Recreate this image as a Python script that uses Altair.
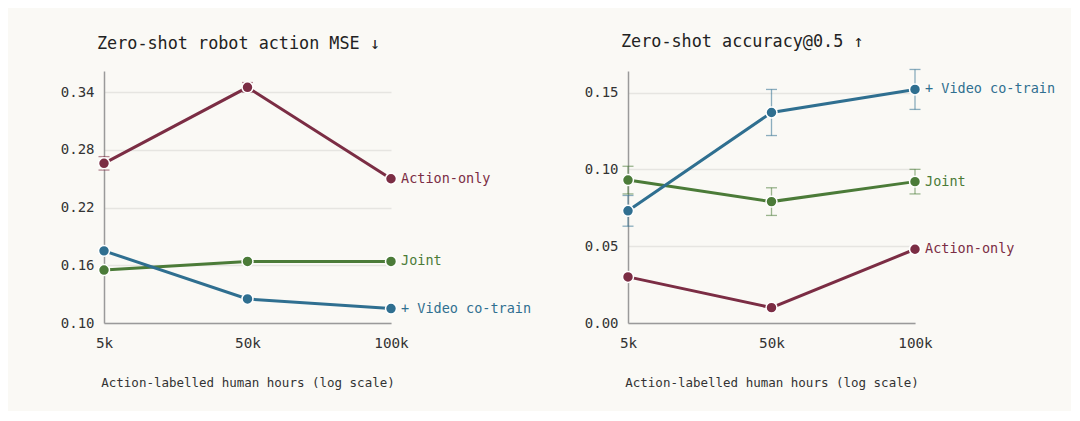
import altair as alt
import pandas as pd

hours = ["5k", "50k", "100k"]
series = ["Action-only", "Joint", "+ Video co-train"]
colors = ["#7b2d44", "#4b7b38", "#2f6f90"]

mse_action = [0.266, 0.345, 0.250]
mse_action_err = [0.007, 0.005, 0.0]
mse_joint = [0.155, 0.164, 0.164]
mse_joint_err = [0.0, 0.0, 0.0]
mse_video = [0.175, 0.125, 0.115]
mse_video_err = [0.0, 0.0, 0.0]

acc_action = [0.030, 0.010, 0.048]
acc_action_err = [0.0, 0.0, 0.0]
acc_joint = [0.093, 0.079, 0.092]
acc_joint_err = [0.009, 0.009, 0.008]
acc_video = [0.073, 0.137, 0.152]
acc_video_err = [0.010, 0.015, 0.013]

FONT = "DejaVu Sans Mono"


def frame(vals_list, errs_list):
    rows = []
    for s, vals, errs in zip(series, vals_list, errs_list):
        for i, (h, v, e) in enumerate(zip(hours, vals, errs)):
            rows.append({"pos": i, "hours": h, "series": s, "v": v, "lo": v - e, "hi": v + e, "e": e})
    return pd.DataFrame(rows)


label_expr = "[" + ",".join(f"'{h}'" for h in hours) + "][datum.value]"


def panel(df, title, domain, ticks, fmt):
    color = alt.Color("series:N", scale=alt.Scale(domain=series, range=colors), legend=None)
    xscale = alt.Scale(domain=[0, len(hours) - 1], nice=False, zero=False)
    x = alt.X("pos:Q", scale=xscale,
              axis=alt.Axis(title="Action-labelled human hours (log scale)", values=list(range(len(hours))),
                            labelExpr=label_expr, labelAngle=0, labelFlush=False,
                            grid=False, ticks=False, labelPadding=13, titlePadding=26,
                            domainColor="#9a9a9a", domainWidth=1.5,
                            labelFontSize=14.3, titleFontSize=12.5, labelColor="#333",
                            titleColor="#333", labelFont=FONT, titleFont=FONT,
                            titleFontWeight="normal"))
    yscale = alt.Scale(domain=domain, nice=False, zero=False)
    y = alt.Y("v:Q", scale=yscale,
              axis=alt.Axis(title=None, values=ticks, format=fmt, ticks=False, labelPadding=10,
                            grid=True, gridColor="#e6e5e1", gridWidth=1.5,
                            domainColor="#9a9a9a", domainWidth=1.5,
                            labelFontSize=14, labelColor="#333", labelFont=FONT))
    base = alt.Chart(df)
    err = df[df.e > 0]
    rules = alt.Chart(err).mark_rule(strokeWidth=1.3, opacity=0.55).encode(
        x=x, y=alt.Y("lo:Q", scale=yscale), y2="hi:Q", color=color)
    cap_lo = alt.Chart(err).mark_tick(size=11, thickness=1.3, opacity=0.55, orient="horizontal").encode(
        x=x, y=alt.Y("lo:Q", scale=yscale), color=color)
    cap_hi = alt.Chart(err).mark_tick(size=11, thickness=1.3, opacity=0.55, orient="horizontal").encode(
        x=x, y=alt.Y("hi:Q", scale=yscale), color=color)
    lines = base.mark_line(strokeWidth=3).encode(x=x, y=y, color=color, detail="series:N")
    pts = base.mark_point(filled=True, size=120, opacity=1, stroke="white", strokeWidth=1.5).encode(
        x=x, y=y, fill=alt.Fill("series:N", scale=alt.Scale(domain=series, range=colors), legend=None))
    labels = base.transform_filter(alt.datum.pos == len(hours) - 1).mark_text(
        align="left", baseline="middle", dx=10, font=FONT, fontSize=13.5).encode(
        x=x, y=y, text="series:N", color=color)
    return alt.layer(rules, cap_lo, cap_hi, lines, pts, labels).properties(
        width=287, height=252,
        title=alt.TitleParams(title, anchor="start", frame="group", dx=-7, offset=18,
                              font=FONT, fontSize=16.8, fontWeight="normal", color="#222"))


left = panel(frame([mse_action, mse_joint, mse_video], [mse_action_err, mse_joint_err, mse_video_err]),
             "Zero-shot robot action MSE ↓", [0.10, 0.362], [0.10, 0.16, 0.22, 0.28, 0.34], ".2f")
right = panel(frame([acc_action, acc_joint, acc_video], [acc_action_err, acc_joint_err, acc_video_err]),
              "Zero-shot accuracy@0.5 ↑", [0.0, 0.164], [0.0, 0.05, 0.10, 0.15], ".2f")

chart = alt.hconcat(left, right, spacing=52).configure(
    background="#faf9f5",
    padding={"left": 52, "top": 26, "right": 15, "bottom": 22},
).configure_view(stroke=None)

chart.save("out.html", embed_options={"renderer": "svg", "actions": False})
